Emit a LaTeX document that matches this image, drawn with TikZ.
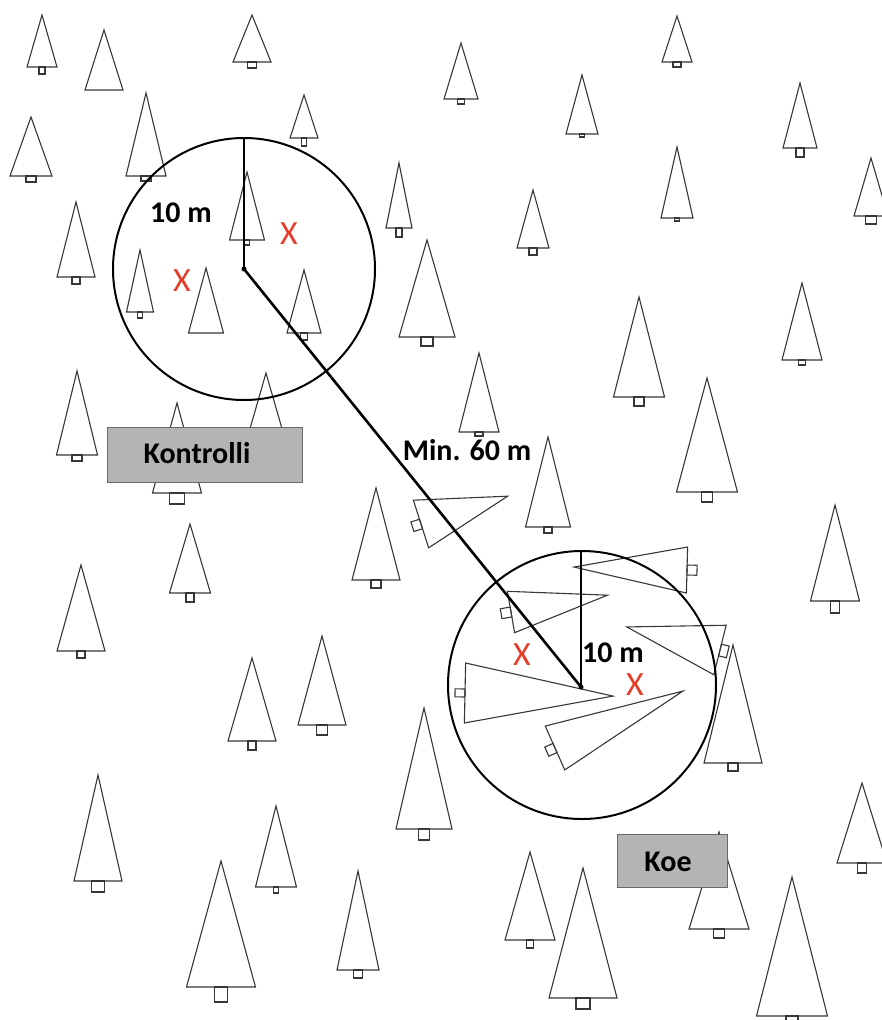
\documentclass[tikz,border=0pt]{standalone}
\usepackage{fontspec}
\setmainfont{Carlito}
\definecolor{markred}{RGB}{228,62,42}
\definecolor{boxgray}{RGB}{180,180,180}
\definecolor{boxedge}{RGB}{105,105,105}
\definecolor{treeink}{RGB}{55,55,55}
\tikzset{
  treeline/.style={draw=treeink, line width=1.1pt, line join=miter},
  pics/tree/.style n args={4}{code={
    \draw[treeline] (-#2,0) -- (0,-#1) -- (#2,0) -- cycle;
    \draw[treeline] (-#3/2,0) rectangle (#3/2,#4);
  }},
  pics/cone/.style n args={2}{code={
    \draw[treeline] (-#2,0) -- (0,-#1) -- (#2,0) -- cycle;
  }},
  plot/.style={draw=black, line width=2pt, circle, minimum size=#1, inner sep=0pt},
  radius/.style={draw=black, line width=1.8pt},
  link/.style={draw=black, line width=2.6pt},
  lbl/.style={font=\fontsize{30}{32}\selectfont\bfseries, inner sep=0pt},
  xmark/.style={font=\fontsize{34}{36}\selectfont, text=markred, inner sep=0pt},
  tag/.style={draw=boxedge, fill=boxgray, line width=1pt, inner sep=0pt},
}
\begin{document}
\begin{tikzpicture}[x=1pt,y=-1pt]
\useasboundingbox (0,0) rectangle (881,1020);

% standing trees: pic at base centre {height}{half width}{trunk width}{trunk height}
\pic at (42,67)   {tree={52}{15}{6}{7}};
\pic at (104,90)  {cone={60}{19}};
\pic at (252,62)  {tree={47}{19}{9}{6}};
\pic at (146,176) {tree={83}{20}{10}{5}};
\pic at (31,176)  {tree={59}{21}{10}{6}};
\pic at (304,138) {tree={43}{14}{5}{8}};
\pic at (76,277)  {tree={75}{19}{8}{7}};
\pic at (247,240) {tree={68}{17.5}{5}{5}};
\pic at (140,312) {tree={62}{13.5}{4.5}{6}};
\pic at (206,333) {cone={65}{17.5}};
\pic at (304,333) {tree={63}{17}{7}{7}};
\pic at (399,228) {tree={65}{13}{6}{9}};
\pic at (427,337) {tree={97}{28}{12}{9}};
\pic at (266,445) {tree={72}{20.7}{8}{7}};
\pic at (177,493) {tree={90}{24.5}{15}{11}};
\pic at (77,455)  {tree={84}{20.5}{10}{6}};
\pic at (190,593) {tree={69}{20.5}{8}{9}};
\pic at (81,651)  {tree={86}{24}{8}{7}};
\pic at (376,580) {tree={92}{24}{10}{8}};
\pic at (548,527) {tree={90}{22.5}{8}{6}};
\pic at (479,432) {tree={79}{20}{8}{4}};
\pic at (639,397) {tree={100}{25.5}{10}{9}};
\pic at (707,492) {tree={114}{30.5}{11}{10}};
\pic at (835,601) {tree={96}{24.5}{9}{12}};
\pic at (802,360) {tree={77}{20}{7}{5}};
\pic at (733,763) {tree={118}{29}{10}{8}};
\pic at (461,99)  {tree={56}{17}{7}{5}};
\pic at (582,134) {tree={59}{16}{5}{3}};
\pic at (677,62)  {tree={46}{15}{8}{5}};
\pic at (800,148) {tree={65}{17}{8}{9}};
\pic at (677,218) {tree={71}{16}{5}{3}};
\pic at (871,216) {tree={58}{17}{11}{8}};
\pic at (533,248) {tree={58}{16}{8}{7}};
\pic at (252,741) {tree={83}{24}{8}{9}};
\pic at (322,725) {tree={89}{24}{11}{10}};
\pic at (424,829) {tree={121}{28}{11}{11}};
\pic at (98,881)  {tree={106}{24}{13}{11}};
\pic at (276,887) {tree={81}{20.5}{5}{6}};
\pic at (221,987) {tree={126}{34.5}{13}{15}};
\pic at (358,970) {tree={99}{21}{9}{8}};
\pic at (530,940) {tree={88}{25}{7}{8}};
\pic at (583,998) {tree={130}{34}{14}{11}};
\pic at (719,929) {tree={97}{30}{11}{9}};
\pic at (792,1016){tree={139}{35.5}{12}{8}};
\pic at (862,863) {tree={80}{25}{9}{10}};

% fallen trees
\pic[rotate=-72.2] at (421,524) {tree={91}{25}{10}{9}};
\pic[rotate=88.5]  at (687,570) {tree={113}{23}{10}{10}};
\pic[rotate=-80.1] at (511,612) {tree={98}{21}{10}{10}};
\pic[rotate=76.1]  at (720,650) {tree={96}{25.5}{12}{8}};
\pic[rotate=-91.2] at (465,693) {tree={148}{30}{8}{10}};
\pic[rotate=-66]   at (555,748) {tree={140}{24}{10}{9}};

% sample plots
\node[plot=262pt] (plotA) at (244,269) {};
\node[plot=268pt] (plotB) at (582,685) {};
\coordinate (ctrA) at (244,269);
\coordinate (ctrB) at (581,687);
\coordinate (topA) at (244,139);
\coordinate (topB) at (581,551);
\draw[radius] (ctrA) -- (topA);
\draw[radius] (ctrB) -- (topB);
\draw[link] (ctrA) -- (ctrB);
\fill (ctrA) circle (2.5);
\fill (ctrB) circle (2.5);

% labels
\node[lbl] (rA) at (181,213) {10 m};
\node[lbl] (rB) at (613,653) {10 m};
\node[lbl] (dist) at (467,450) {Min. 60 m};

\node[xmark] (xa1) at (289,234) {X};
\node[xmark] (xa2) at (182,281) {X};
\node[xmark] (xb1) at (522,655) {X};
\node[xmark] (xb2) at (635,685) {X};

% tags
\node[tag, minimum width=195pt, minimum height=55pt] (kontrolli) at (204.5,454.5) {};
\node[lbl] (kontrollitxt) at (197,453) {Kontrolli};
\node[tag, minimum width=110pt, minimum height=53pt] (koe) at (672,860.5) {};
\node[lbl] (koetxt) at (668,862) {Koe};
\end{tikzpicture}
\end{document}
